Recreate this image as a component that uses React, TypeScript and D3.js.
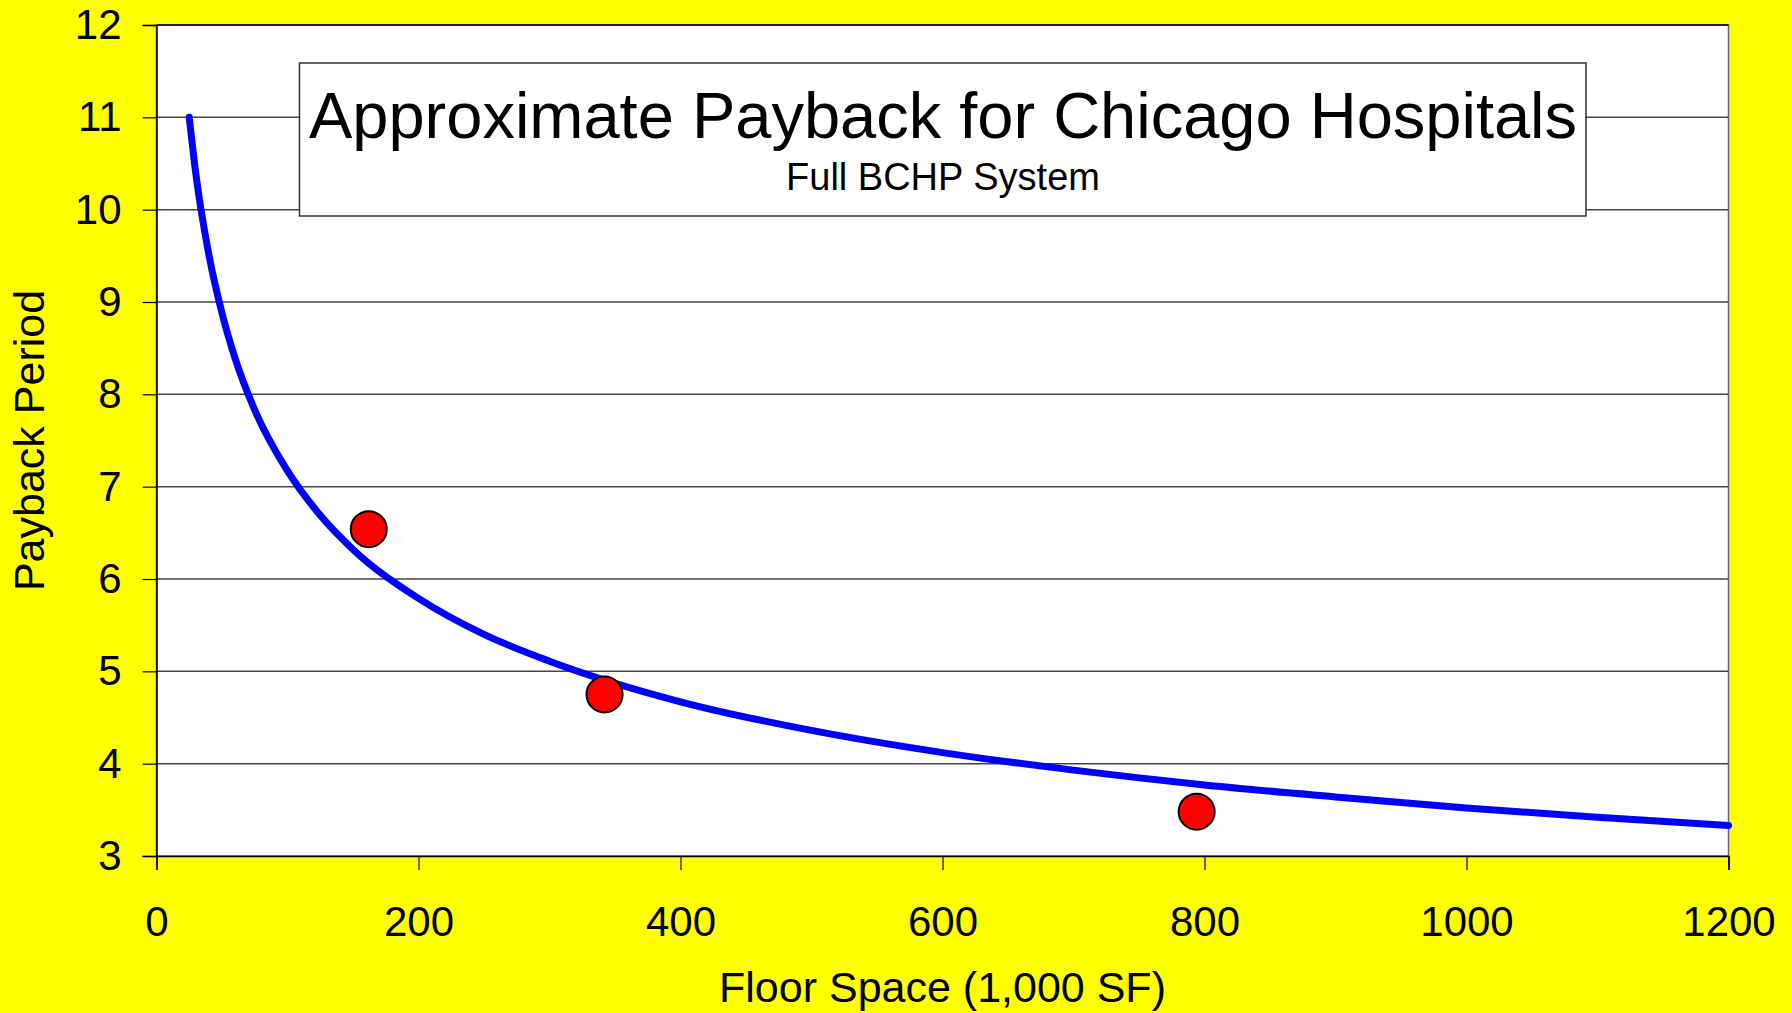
import React, { useEffect, useRef } from 'react';
import * as d3 from 'd3';

// data -----------------------------------------------------------
const xTicks = [0, 200, 400, 600, 800, 1000, 1200];
const yTicks = [3, 4, 5, 6, 7, 8, 9, 10, 11, 12];

// fitted trend line (floor space, payback years)
const trendX = [25, 30, 40, 50, 60, 75, 100, 125, 150, 200, 250, 300, 400, 500, 600, 700, 800, 900, 1000, 1100, 1200];
const trendY = [11.0, 10.39, 9.51, 8.88, 8.39, 7.83, 7.17, 6.69, 6.32, 5.79, 5.40, 5.11, 4.67, 4.36, 4.12, 3.93, 3.77, 3.64, 3.52, 3.42, 3.33];

// hospitals
const hospitalX = [162, 342, 794];
const hospitalY = [6.54, 4.75, 3.48];

const titleText = 'Approximate Payback for Chicago Hospitals';
const subtitleText = 'Full BCHP System';
const xLabel = 'Floor Space (1,000 SF)';
const yLabel = 'Payback Period';

const App = () => {
    const [width, height] = [1792, 1013];
    const margin = { left: 156.5, right: 1728.5, top: 25, bottom: 856 };
    const font = '"Liberation Sans", Arial, sans-serif';
    const ref = useRef<SVGSVGElement>(null);

    useEffect(() => {
        const svg = d3.select(ref.current);
        svg.selectAll('*').remove();

        const xScale = d3.scaleLinear().domain([0, 1200]).range([margin.left, margin.right]);
        const yScale = d3.scaleLinear().domain([3, 12]).range([margin.bottom, margin.top]);

        // background
        svg.append('rect')
            .attr('width', width)
            .attr('height', height)
            .attr('fill', '#ffff00');

        // plot area
        svg.append('rect')
            .attr('x', margin.left)
            .attr('y', margin.top)
            .attr('width', margin.right - margin.left)
            .attr('height', margin.bottom - margin.top)
            .attr('fill', '#ffffff')
            .attr('stroke', '#666')
            .attr('stroke-width', 1.5);

        // horizontal gridlines
        svg.append('g')
            .selectAll('line')
            .data(yTicks.slice(1))
            .join('line')
            .attr('x1', margin.left)
            .attr('x2', margin.right)
            .attr('y1', d => yScale(d))
            .attr('y2', d => yScale(d))
            .attr('stroke', d => (d === 12 ? '#000' : '#444'))
            .attr('stroke-width', 1.5);

        // y axis
        const yAxis = svg.append('g')
            .attr('transform', `translate(${margin.left},0)`)
            .call(d3.axisLeft(yScale).tickValues(yTicks).tickSize(14).tickPadding(21).tickFormat(d3.format('d')));
        yAxis.select('.domain').attr('stroke', '#000').attr('stroke-width', 1.5);
        yAxis.selectAll('.tick line').attr('stroke', '#000').attr('stroke-width', 1.2);
        yAxis.selectAll('.tick text')
            .attr('fill', '#000')
            .style('font-family', font)
            .style('font-size', '42px');

        // x axis
        const xAxis = svg.append('g')
            .attr('transform', `translate(0,${margin.bottom})`)
            .call(d3.axisBottom(xScale).tickValues(xTicks).tickSize(14).tickPadding(36).tickFormat(d3.format('d')));
        xAxis.select('.domain').attr('stroke', '#000').attr('stroke-width', 1.5);
        xAxis.selectAll('.tick line').attr('stroke', '#000').attr('stroke-width', 1.2);
        xAxis.selectAll('.tick text')
            .attr('fill', '#000')
            .style('font-family', font)
            .style('font-size', '42px');

        // title box
        svg.append('rect')
            .attr('x', 299.5)
            .attr('y', 63)
            .attr('width', 1286.5)
            .attr('height', 153)
            .attr('fill', '#ffffff')
            .attr('stroke', '#333')
            .attr('stroke-width', 1.5);
        svg.append('text')
            .attr('x', 943)
            .attr('y', 138)
            .attr('text-anchor', 'middle')
            .style('font-family', font)
            .style('font-size', '65px')
            .text(titleText);
        svg.append('text')
            .attr('x', 943)
            .attr('y', 190)
            .attr('text-anchor', 'middle')
            .style('font-family', font)
            .style('font-size', '38px')
            .text(subtitleText);

        // trend line
        const line = d3.line<number>()
            .x(d => xScale(d))
            .y((d, i) => yScale(trendY[i]))
            .curve(d3.curveMonotoneX);
        svg.append('path')
            .datum(trendX)
            .attr('d', line)
            .attr('fill', 'none')
            .attr('stroke', '#0000ff')
            .attr('stroke-width', 7)
            .attr('stroke-linecap', 'round');

        // hospital points
        svg.append('g')
            .selectAll('circle')
            .data(hospitalX)
            .join('circle')
            .attr('cx', d => xScale(d))
            .attr('cy', (d, i) => yScale(hospitalY[i]))
            .attr('r', 18)
            .attr('fill', '#ff0000')
            .attr('stroke', '#000')
            .attr('stroke-width', 2);

        // axis titles
        svg.append('text')
            .attr('x', (margin.left + margin.right) / 2)
            .attr('y', 1002)
            .attr('text-anchor', 'middle')
            .style('font-family', font)
            .style('font-size', '43px')
            .text(xLabel);
        svg.append('text')
            .attr('transform', `translate(44,${(margin.top + margin.bottom) / 2}) rotate(-90)`)
            .attr('text-anchor', 'middle')
            .style('font-family', font)
            .style('font-size', '43px')
            .text(yLabel);
    }, []);

    return (
        <div style={{ position: 'absolute', left: 0, top: 0 }}>
            <svg ref={ref} width={width} height={height} style={{ display: 'block' }}></svg>
        </div>
    );
};

export default App;
